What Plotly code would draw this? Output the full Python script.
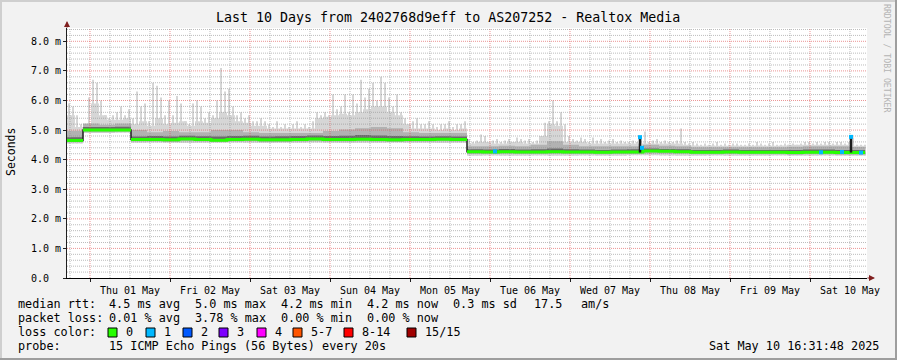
import plotly.graph_objects as go
import pandas as pd
import numpy as np

# ---------------- data ----------------
T_START = "2025-04-30 17:06"          # left edge of the time axis
T_END = "2025-05-10 17:06"            # right edge of the time axis
DATA_END = "2025-05-10 16:31:48"      # last sample

# max ping (tips of the light smoke), one value every 72 minutes (ms)
hi = [5.9, 5.8, 5.5, 5.2, 5.2, 6.1, 6.7, 6.6, 6.0, 5.5,
      5.4, 5.5, 5.6, 5.8, 5.5, 5.7, 5.4, 6.3, 5.8, 5.9,
      5.3, 6.6, 6.5, 6.1, 5.5, 6.0, 5.5, 6.15, 5.9, 5.3,
      5.2, 5.9, 6.0, 5.8, 5.4, 5.6, 5.5, 6.0, 7.1, 6.3,
      6.4, 5.8, 5.5, 5.6, 5.4, 5.5, 5.3, 5.3, 5.4, 5.3,
      5.2, 5.1, 5.3, 5.1, 5.2, 5.1, 5.2, 5.3, 5.1, 5.2,
      5.1, 5.3, 5.6, 5.5, 5.6, 5.5, 6.2, 5.7, 5.8, 6.2,
      5.6, 6.2, 5.9, 6.7, 6.1, 6.4, 6.6, 6.0, 6.8, 6.6,
      6.1, 5.8, 6.2, 5.6, 5.4, 5.2, 5.3, 5.4, 5.2, 5.2,
      5.3, 5.2, 5.1, 5.2, 5.2, 5.3, 5.1, 5.2, 5.2, 5.3,
      4.7, 4.6, 4.65, 4.85, 4.8, 4.6, 4.65, 4.7, 4.6, 4.65,
      4.7, 4.6, 4.75, 4.7, 4.65, 4.7, 4.6, 4.65, 4.7, 5.25,
      5.3, 6.0, 5.3, 5.6, 5.2, 4.8, 4.7, 4.65, 4.75, 4.7,
      4.6, 4.75, 4.65, 4.7, 4.6, 4.65, 4.7, 4.6, 4.65, 4.6,
      4.6, 4.65, 4.6, 4.8, 4.95, 4.6, 4.65, 4.7, 4.6, 4.65,
      4.6, 4.6, 4.65, 5.05, 4.6, 4.55, 4.6, 4.55, 4.5, 4.55,
      4.5, 4.55, 4.6, 4.5, 4.55, 4.5, 4.55, 4.55, 4.5, 4.5,
      4.55, 4.5, 4.6, 4.55, 4.5, 4.55, 4.6, 4.5, 4.5, 4.55,
      4.5, 4.55, 4.5, 4.55, 4.6, 4.6, 4.55, 4.6, 4.55, 4.6,
      4.6, 4.55, 4.6, 4.6, 4.55, 4.6, 4.75, 4.5, 4.5, 4.5]

# dense part of the light smoke, one value every 144 minutes (ms)
body = [5.5, 5.1, 5.2, 5.9, 5.5, 5.35, 5.35, 5.4, 5.2, 5.3,
        5.15, 5.4, 5.2, 5.25, 5.3, 5.15, 5.3, 5.25, 5.4, 5.6,
        5.5, 5.3, 5.25, 5.15, 5.15, 5.05, 5.05, 5.05, 5.05, 5.05,
        5.05, 5.4, 5.45, 5.5, 5.55, 5.5, 5.6, 5.7, 5.8, 5.8,
        5.6, 5.5, 5.2, 5.05, 5.05, 5.05, 5.0, 5.05, 5.0, 5.05,
        4.55, 4.6, 4.6, 4.55, 4.55, 4.6, 4.6, 4.55, 4.55, 4.8,
        5.2, 5.15, 4.6, 4.6, 4.6, 4.55, 4.55, 4.55, 4.55, 4.55,
        4.55, 4.55, 4.55, 4.55, 4.55, 4.55, 4.55, 4.5, 4.48, 4.47,
        4.48, 4.47, 4.47, 4.48, 4.47, 4.47, 4.48, 4.47, 4.47, 4.48,
        4.5, 4.5, 4.5, 4.5, 4.5, 4.5, 4.5, 4.5, 4.47, 4.47]

# inner bands and median, one value every 288 minutes (ms)
med = [4.65, 5.0, 5.0, 5.0,
       4.68, 4.68, 4.67, 4.7, 4.68, 4.66, 4.68, 4.69, 4.67, 4.67,
       4.68, 4.7, 4.68, 4.68, 4.69, 4.68, 4.67, 4.68, 4.68, 4.69, 4.68,
       4.27, 4.26, 4.27, 4.26, 4.26, 4.27, 4.26, 4.26, 4.25, 4.26,
       4.26, 4.29, 4.28, 4.27, 4.25, 4.25, 4.26, 4.25, 4.25, 4.25,
       4.24, 4.25, 4.25, 4.24, 4.24]
lo = [4.55, 4.9, 4.9, 4.91,
      4.57, 4.58, 4.57, 4.56, 4.57, 4.57, 4.58, 4.57, 4.56, 4.57,
      4.57, 4.58, 4.57, 4.56, 4.57, 4.57, 4.58, 4.57, 4.57, 4.56, 4.57,
      4.13, 4.14, 4.13, 4.13, 4.14, 4.13, 4.13, 4.14, 4.13, 4.13,
      4.15, 4.15, 4.14, 4.13, 4.13, 4.14, 4.13, 4.13, 4.13, 4.14,
      4.13, 4.13, 4.14, 4.13, 4.13]
lo_mid = [4.59, 4.93, 4.93, 4.94,
          4.61, 4.61, 4.6, 4.62, 4.61, 4.6, 4.61, 4.62, 4.6, 4.6,
          4.61, 4.62, 4.61, 4.61, 4.62, 4.61, 4.6, 4.61, 4.61, 4.62, 4.61,
          4.19, 4.19, 4.2, 4.19, 4.19, 4.2, 4.19, 4.19, 4.18, 4.19,
          4.19, 4.21, 4.2, 4.2, 4.18, 4.18, 4.19, 4.18, 4.18, 4.18,
          4.17, 4.18, 4.18, 4.17, 4.17]
up_mid = [4.98, 5.22, 5.18, 5.22,
          5.0, 4.93, 4.97, 4.93, 4.93, 5.0, 5.0, 4.93, 4.9, 4.9,
          4.9, 4.9, 4.97, 5.02, 5.06, 5.1, 5.06, 4.93, 4.9, 4.9, 4.9,
          4.45, 4.45, 4.47, 4.45, 4.5, 4.62, 4.5, 4.45, 4.45, 4.45,
          4.45, 4.5, 4.47, 4.45, 4.42, 4.42, 4.42, 4.42, 4.42, 4.42,
          4.44, 4.45, 4.45, 4.45, 4.43]
up_dark = [4.76, 5.1, 5.1, 5.11,
           4.78, 4.8, 4.78, 4.81, 4.79, 4.78, 4.8, 4.81, 4.78, 4.79,
           4.8, 4.82, 4.8, 4.81, 4.83, 4.82, 4.8, 4.79, 4.78, 4.79, 4.78,
           4.35, 4.34, 4.36, 4.34, 4.35, 4.38, 4.35, 4.34, 4.33, 4.34,
           4.35, 4.38, 4.36, 4.35, 4.33, 4.33, 4.34, 4.33, 4.33, 4.33,
           4.33, 4.34, 4.34, 4.33, 4.33]

# single-column ping spreads (dark vertical marks)
spike_t = ["2025-05-07 21:00", "2025-05-10 12:18"]
spike_lo = [4.24, 4.24]
spike_hi = [4.79, 4.79]

# samples with 1/15 packet loss
loss1_t = ["2025-05-06 01:30", "2025-05-07 21:00", "2025-05-07 21:36",
           "2025-05-10 03:18", "2025-05-10 09:36", "2025-05-10 12:18",
           "2025-05-10 15:18"]
loss1_v = [4.28, 4.76, 4.4, 4.25, 4.26, 4.77, 4.24]

y_ticks = [0, 1, 2, 3, 4, 5, 6, 7, 8]
y_ticktext = ["0.0\u00a0\u00a0", "1.0 m", "2.0 m", "3.0 m", "4.0 m",
              "5.0 m", "6.0 m", "7.0 m", "8.0 m"]

loss_labels = ["0", "1", "2", "3", "4", "5-7", "8-14", "15/15"]
loss_colors = ["#26ff00", "#00b8ff", "#0059ff", "#7e00ff", "#ff00ff",
               "#ff5500", "#ff0000", "#a00000"]

title = "Last 10 Days from 2402768d9eff to AS207252 - Realtox Media"
stat_line1 = [("median rtt:", 16), ("4.5 ms avg", 107), ("5.0 ms max", 193),
              ("4.2 ms min", 279), ("4.2 ms now", 365), ("0.3 ms sd", 451),
              ("17.5", 532), ("am/s", 579)]
stat_line2 = [("packet loss:", 16), ("0.01 % avg", 107), ("3.78 % max", 193),
              ("0.00 % min", 279), ("0.00 % now", 365)]
probe_text = "15 ICMP Echo Pings (56 Bytes) every 20s"
stamp_text = "Sat May 10 16:31:48 2025"

# ---------------- layout helpers ----------------
W_FIG, H_FIG = 897, 360
L, R, T, B = 67, 867, 28, 278
PW, PH = R - L, B - T
Y_MAX = 8.45
FONT = "DejaVu Sans Mono"


def px2x(px):
    return (px - L) / PW


def px2y(py):
    return (B - py) / PH


t_hi = list(pd.date_range(T_START, periods=len(hi), freq="72min"))
t_body = list(pd.date_range(T_START, periods=len(body), freq="144min"))
t_band = list(pd.date_range(T_START, periods=len(med), freq="288min"))
t_end = pd.Timestamp(DATA_END)

x_band = t_band + [t_end]
x_body = t_body + [t_end]


def ext(arr):
    return list(arr) + [arr[-1]]


fig = go.Figure()


def band(base, top, xb, xt, color):
    fig.add_trace(go.Scatter(x=xb, y=base, mode="lines", line=dict(width=0, shape="hv"),
                             hoverinfo="skip"))
    fig.add_trace(go.Scatter(x=xt, y=top, mode="lines", line=dict(width=0, shape="hv"),
                             fill="tonexty", fillcolor=color, hoverinfo="skip"))


LIGHT = "#d6d6d6"
band(ext(lo), ext(body), x_band, x_body, LIGHT)

# thin tips of the light smoke
bx, by = [], []
half = pd.Timedelta(minutes=36)
for j, (t, v) in enumerate(zip(t_hi, hi)):
    base = lo[min(j // 4, len(lo) - 1)]
    bx += [t + half, t + half, None]
    by += [base, v, None]
fig.add_trace(go.Scatter(x=bx, y=by, mode="lines", hoverinfo="skip",
                         line=dict(color=LIGHT, width=2)))

band(ext(lo_mid), ext(up_mid), x_band, x_band, "#b2b2b2")
band(ext(med), ext(up_dark), x_band, x_band, "#6a6a6a")

# ---- grid drawn over the smoke (as rrdtool does) ----
t0, t1 = pd.Timestamp(T_START), pd.Timestamp(T_END)
gx_minor, gy_minor, gx_major, gy_major = [], [], [], []
for t in pd.date_range("2025-04-30 18:00", T_END, freq="6h"):
    if t.hour == 0:
        gx_major += [t, t, None]; gy_major += [0, Y_MAX, None]
    else:
        gx_minor += [t, t, None]; gy_minor += [0, Y_MAX, None]
for i in range(1, int(Y_MAX / 0.2) + 1):
    v = round(i * 0.2, 1)
    if abs(v - round(v)) < 1e-6:
        gx_major += [t0, t1, None]; gy_major += [v, v, None]
    else:
        gx_minor += [t0, t1, None]; gy_minor += [v, v, None]
fig.add_trace(go.Scatter(x=gx_minor, y=gy_minor, mode="lines", hoverinfo="skip",
                         line=dict(color="rgba(143,143,143,0.6)", width=1, dash="1px,1px")))
fig.add_trace(go.Scatter(x=gx_major, y=gy_major, mode="lines", hoverinfo="skip",
                         line=dict(color="rgba(222,79,79,0.6)", width=1, dash="1px,1px")))

# ---- median: dark step outline, green where no loss ----
fig.add_trace(go.Scatter(x=x_band, y=ext(med), mode="lines", hoverinfo="skip",
                         line=dict(color="#1f1f1f", width=1.5, shape="hv")))
gx, gy = [], []
for k in range(len(med)):
    gx.append(x_band[k]); gy.append(med[k])
    nxt = med[k + 1] if k + 1 < len(med) else med[k]
    if abs(nxt - med[k]) > 0.2 or k + 1 == len(med):
        gx += [x_band[k + 1], None]; gy += [med[k], None]
fig.add_trace(go.Scatter(x=gx, y=gy, mode="lines", hoverinfo="skip",
                         line=dict(color=loss_colors[0], width=3, shape="hv")))

sx, sy = [], []
for t, a, b in zip(spike_t, spike_lo, spike_hi):
    sx += [t, t, None]; sy += [a, b, None]
fig.add_trace(go.Scatter(x=sx, y=sy, mode="lines", hoverinfo="skip",
                         line=dict(color="#1f1f1f", width=2.5)))
fig.add_trace(go.Scatter(x=loss1_t, y=loss1_v, mode="markers", hoverinfo="skip",
                         marker=dict(symbol="square", size=4, color=loss_colors[1],
                                     line=dict(width=0))))

# ---------------- axes ----------------
fig.update_xaxes(range=[T_START, T_END], type="date", showgrid=False, zeroline=False,
                 tick0="2025-05-01", dtick=86400000, ticklabelmode="period",
                 tickformat="%a %d %b", ticks="outside", ticklen=3, tickcolor="#1f1f1f",
                 showline=True, linecolor="#000000", linewidth=1,
                 tickfont=dict(family=FONT, size=10, color="#000000"))
fig.update_yaxes(range=[0, Y_MAX], showgrid=False, zeroline=False,
                 tickmode="array", tickvals=y_ticks, ticktext=y_ticktext,
                 ticks="outside", ticklen=3, tickcolor="#1f1f1f",
                 showline=True, linecolor="#1f1f1f", linewidth=1,
                 tickfont=dict(family=FONT, size=10, color="#000000"))

ann = []
shapes = []
# axis arrows
ann.append(dict(x=0, y=px2y(21), xref="paper", yref="paper", ax=0, ay=8, text="",
                showarrow=True, arrowhead=2, arrowsize=1, arrowwidth=1.2, arrowcolor="#801f1f"))
ann.append(dict(x=px2x(875), y=0, xref="paper", yref="paper", ax=-9, ay=0, text="",
                showarrow=True, arrowhead=2, arrowsize=1, arrowwidth=1.2, arrowcolor="#801f1f"))

ann.append(dict(x=px2x(448), y=px2y(18), xref="paper", yref="paper", text=title,
                showarrow=False, xanchor="center", yanchor="middle",
                font=dict(family=FONT, size=13.3, color="#000000")))
ann.append(dict(x=px2x(11), y=px2y(152), xref="paper", yref="paper", text="Seconds",
                textangle=-90, showarrow=False, xanchor="center", yanchor="middle",
                font=dict(family=FONT, size=11.5, color="#000000")))
ann.append(dict(x=px2x(887), y=px2y(59), xref="paper", yref="paper",
                text="RRDTOOL / TOBI OETIKER", textangle=90, showarrow=False,
                xanchor="center", yanchor="middle",
                font=dict(family=FONT, size=8.2, color="#b4b4b4")))

LEG = 11.8
for line, py in ((stat_line1, 304), (stat_line2, 318)):
    for txt, px in line:
        ann.append(dict(x=px2x(px), y=px2y(py), xref="paper", yref="paper", text=txt,
                        showarrow=False, xanchor="left", yanchor="middle",
                        font=dict(family=FONT, size=LEG, color="#000000")))
ann.append(dict(x=px2x(16), y=px2y(332), xref="paper", yref="paper", text="loss color:",
                showarrow=False, xanchor="left", yanchor="middle",
                font=dict(family=FONT, size=LEG, color="#000000")))
sw_x = [108, 146, 183, 219, 257, 293, 344, 407]
for lab, col, px in zip(loss_labels, loss_colors, sw_x):
    shapes.append(dict(type="rect", xref="paper", yref="paper",
                       x0=px2x(px), x1=px2x(px + 9), y0=px2y(337), y1=px2y(328),
                       fillcolor=col, line=dict(color="#000000", width=1)))
    ann.append(dict(x=px2x(px + 16), y=px2y(332), xref="paper", yref="paper", text=lab,
                    showarrow=False, xanchor="left", yanchor="middle",
                    font=dict(family=FONT, size=LEG, color="#000000")))
ann.append(dict(x=px2x(16), y=px2y(346), xref="paper", yref="paper", text="probe:",
                showarrow=False, xanchor="left", yanchor="middle",
                font=dict(family=FONT, size=LEG, color="#000000")))
ann.append(dict(x=px2x(107), y=px2y(346), xref="paper", yref="paper", text=probe_text,
                showarrow=False, xanchor="left", yanchor="middle",
                font=dict(family=FONT, size=LEG, color="#000000")))
ann.append(dict(x=px2x(881), y=px2y(346), xref="paper", yref="paper", text=stamp_text,
                showarrow=False, xanchor="right", yanchor="middle",
                font=dict(family=FONT, size=LEG, color="#000000")))

# 3-D frame of the image
shapes += [
    dict(type="rect", xref="paper", yref="paper", x0=px2x(0), x1=px2x(W_FIG),
         y0=px2y(0), y1=px2y(2), fillcolor="#cfcfcf", line=dict(width=0)),
    dict(type="rect", xref="paper", yref="paper", x0=px2x(0), x1=px2x(2),
         y0=px2y(0), y1=px2y(H_FIG), fillcolor="#cfcfcf", line=dict(width=0)),
    dict(type="rect", xref="paper", yref="paper", x0=px2x(0), x1=px2x(W_FIG),
         y0=px2y(H_FIG - 2), y1=px2y(H_FIG), fillcolor="#9e9e9e", line=dict(width=0)),
    dict(type="rect", xref="paper", yref="paper", x0=px2x(W_FIG - 2), x1=px2x(W_FIG),
         y0=px2y(0), y1=px2y(H_FIG), fillcolor="#9e9e9e", line=dict(width=0)),
]

fig.update_layout(width=W_FIG, height=H_FIG, autosize=False,
                  margin=dict(l=L, r=W_FIG - R, t=T, b=H_FIG - B, pad=0),
                  paper_bgcolor="#f2f2f2", plot_bgcolor="#ffffff",
                  showlegend=False, annotations=ann, shapes=shapes,
                  font=dict(family=FONT, color="#000000"))

fig.write_html("out.html")
